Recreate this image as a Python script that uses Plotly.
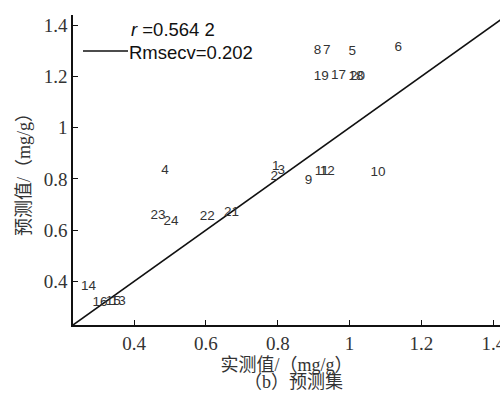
import plotly.graph_objects as go

# Measured vs predicted content (mg/g) for the prediction set
sample_ids = [str(i) for i in range(1, 25)]
measured = [0.784, 0.780, 0.799, 0.476, 0.997, 1.125, 0.926, 0.900,
            0.875, 1.058, 0.903, 0.917, 0.335, 0.252, 0.321, 0.284,
            0.948, 0.997, 0.900, 1.001, 0.650, 0.583, 0.446, 0.482]
predicted = [0.849, 0.810, 0.834, 0.834, 1.295, 1.310, 1.302, 1.302,
             0.795, 0.826, 0.830, 0.830, 0.322, 0.380, 0.322, 0.319,
             1.202, 1.197, 1.197, 1.197, 0.668, 0.654, 0.655, 0.634]

x_range = [0.23, 1.4186]
y_range = [0.23, 1.439]
tick_vals = [0.4, 0.6, 0.8, 1.0, 1.2, 1.4]
tick_text = ["0.4", "0.6", "0.8", "1", "1.2", "1.4"]

r_text = "<i>r</i> =0.564 2"
rmse_text = "Rmsecv=0.202"

serif = "Liberation Serif, Noto Sans CJK SC, serif"
sans = "Liberation Sans, Arial, sans-serif"

fig = go.Figure()

# 1:1 reference line
fig.add_trace(go.Scatter(
    x=[x_range[0], 1.45], y=[x_range[0], 1.45],
    mode="lines", line=dict(color="#111111", width=1.6),
    showlegend=False, hoverinfo="skip"))

# Sample numbers placed at their (measured, predicted) positions
fig.add_trace(go.Scatter(
    x=measured, y=predicted, text=sample_ids,
    mode="text", textposition="middle right",
    textfont=dict(family=sans, size=13.5, color="#333333"),
    showlegend=False))

axis_common = dict(
    showline=True, linecolor="#111111", linewidth=1.6,
    ticks="inside", ticklen=5, tickwidth=1.4, tickcolor="#111111",
    showgrid=False, zeroline=False, mirror=False,
    tickvals=tick_vals, ticktext=tick_text,
    ticklabeloverflow="allow", automargin=False,
    tickfont=dict(family=serif, size=19, color="#333333"),
)

fig.update_xaxes(range=x_range, **axis_common,
                 title=dict(text="实测值/（mg/g）",
                            font=dict(family=serif, size=18, color="#333333"),
                            standoff=6))
fig.update_yaxes(range=y_range, **axis_common,
                 title=dict(text="预测值/（mg/g）",
                            font=dict(family=serif, size=18, color="#333333"),
                            standoff=8))

# Legend block: statistics text and line sample
fig.add_shape(type="line", xref="paper", yref="paper",
              x0=(83 - 73) / 427, x1=(128 - 73) / 427,
              y0=(325 - 51) / 310, y1=(325 - 51) / 310,
              line=dict(color="#111111", width=1.6))
fig.add_annotation(xref="paper", yref="paper",
                   x=(129 - 73) / 427, y=(325 - 29) / 310,
                   xanchor="left", yanchor="middle", showarrow=False,
                   text=r_text, font=dict(family=sans, size=18.5, color="#111111"))
fig.add_annotation(xref="paper", yref="paper",
                   x=(127 - 73) / 427, y=(325 - 52) / 310,
                   xanchor="left", yanchor="middle", showarrow=False,
                   text=rmse_text, font=dict(family=sans, size=18.5, color="#111111"))

# Panel caption
fig.add_annotation(xref="paper", yref="paper",
                   x=(293 - 73) / 427, y=-(382 - 325) / 310,
                   xanchor="center", yanchor="middle", showarrow=False,
                   text="（b）预测集",
                   font=dict(family=serif, size=18, color="#333333"))

fig.update_layout(
    width=500, height=397,
    margin=dict(l=73, r=0, t=15, b=72, autoexpand=False),
    paper_bgcolor="white", plot_bgcolor="white",
    showlegend=False,
)

fig.write_html("out.html")
